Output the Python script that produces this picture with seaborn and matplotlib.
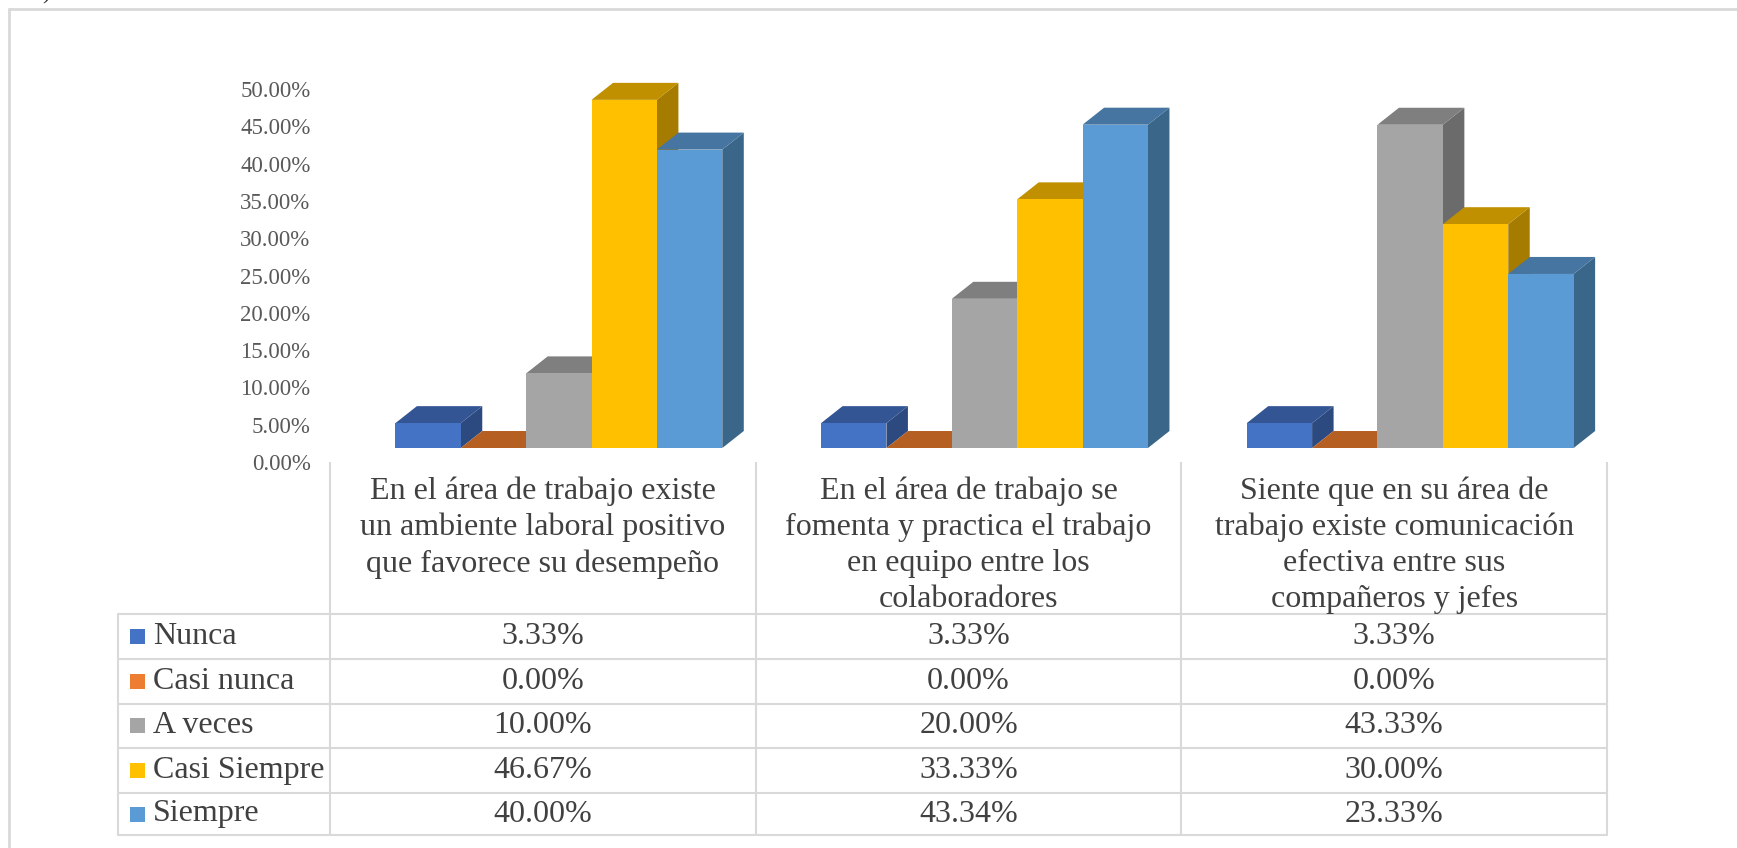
import numpy as np
import pandas as pd
import matplotlib
matplotlib.use("Agg")
import matplotlib.pyplot as plt
from matplotlib.patches import Polygon, Rectangle
from matplotlib.transforms import ScaledTranslation
import seaborn as sns

# ---- data -------------------------------------------------------------
preguntas = [
    "En el área de trabajo existe\nun ambiente laboral positivo\nque favorece su desempeño",
    "En el área de trabajo se\nfomenta y practica el trabajo\nen equipo entre los\ncolaboradores",
    "Siente que en su área de\ntrabajo existe comunicación\nefectiva entre sus\ncompañeros y jefes",
]
respuestas = ["Nunca", "Casi nunca", "A veces", "Casi Siempre", "Siempre"]
nunca = [3.33, 3.33, 3.33]
casi_nunca = [0.00, 0.00, 0.00]
a_veces = [10.00, 20.00, 43.33]
casi_siempre = [46.67, 33.33, 30.00]
siempre = [40.00, 43.34, 23.33]
y_ticks = [0, 5, 10, 15, 20, 25, 30, 35, 40, 45, 50]

series = [nunca, casi_nunca, a_veces, casi_siempre, siempre]
df = pd.DataFrame(
    [(p, r, v[i]) for r, v in zip(respuestas, series) for i, p in enumerate(preguntas)],
    columns=["pregunta", "respuesta", "valor"],
)

# ---- styling ----------------------------------------------------------
front = ["#4472C4", "#ED7D31", "#A5A5A5", "#FFC000", "#5B9BD5"]
top = ["#335593", "#B55F22", "#7F7F7F", "#C09000", "#4575A0"]
side = ["#2C4A80", "#A0521C", "#6B6B6B", "#A57C00", "#3A6689"]
grid_c = "#D9D9D9"
txt_c = "#404040"
axis_c = "#595959"

sns.set_theme(style="white")
plt.rcParams["font.family"] = ["Liberation Serif", "DejaVu Serif"]

W, H, DPI = 1737, 848, 100
fig = plt.figure(figsize=(W / DPI, H / DPI), dpi=DPI)
fig.patch.set_facecolor("white")

# chart area: columns of the data table define the category slots
col_left, col_right = 330, 1607
base_y, top_y = 448, 75
ax = fig.add_axes([col_left / W, (H - base_y) / H,
                   (col_right - col_left) / W, (base_y - top_y) / H])
ax.set_facecolor("none")

sns.barplot(data=df, x="pregunta", y="valor", hue="respuesta",
            order=preguntas, hue_order=respuestas, palette=front,
            saturation=1, width=0.768, gap=0, linewidth=0,
            legend=False, ax=ax)

slot_px = (col_right - col_left) / 3
shift = 16 / slot_px
ax.set_xlim(-0.5 - shift, 2.5 - shift)
ax.set_ylim(0, 50)
for s in ax.spines.values():
    s.set_visible(False)
ax.set_xticks([])
ax.set_xlabel("")
ax.set_ylabel("")
ax.set_yticks(y_ticks, [f"{t:.2f}%" for t in y_ticks])
ax.tick_params(axis="y", length=0, pad=14, labelsize=16.5, labelcolor=axis_c)
lab_off = ScaledTranslation(0, -14 / DPI, fig.dpi_scale_trans)
for lbl in ax.get_yticklabels():
    lbl.set_fontfamily(["Liberation Serif", "DejaVu Serif"])
    lbl.set_transform(lbl.get_transform() + lab_off)

# 3-D depth of the columns (pixels converted to data units)
px_x = slot_px
px_y = (base_y - top_y) / 50
dx = 21.5 / px_x
dy = 17.0 / px_y

bars = sorted(ax.patches, key=lambda p: p.get_x())
for k, p in enumerate(bars):
    x0, w, h = p.get_x(), p.get_width(), p.get_height()
    # series index from the bar's position inside its group
    cat = round(x0 + w / 2)
    j = int(round((x0 + w / 2 - cat) / w + 2))
    z = 2 + 3 * k
    ax.add_patch(Polygon([(x0 + w, 0), (x0 + w + dx, dy), (x0 + w + dx, h + dy), (x0 + w, h)],
                         closed=True, facecolor=side[j], edgecolor="none", zorder=z))
    ax.add_patch(Polygon([(x0, h), (x0 + w, h), (x0 + w + dx, h + dy), (x0 + dx, h + dy)],
                         closed=True, facecolor=top[j], edgecolor="none", zorder=z + 1))
    p.set_zorder(z + 2)

# ---- data table and frame (pixel coordinates) ----------------------------
tab = fig.add_axes([0, 0, 1, 1])
tab.set_xlim(0, W)
tab.set_ylim(H, 0)
tab.axis("off")

lw = 1.5
leg_left = 118
cols = [col_left + slot_px * i for i in range(4)]
rows = [614, 659, 703.5, 748, 793, 835]
head_top = 462

for cx in cols:
    tab.plot([cx, cx], [head_top, rows[-1]], color=grid_c, lw=lw, solid_capstyle="butt")
tab.plot([leg_left, leg_left], [rows[0], rows[-1]], color=grid_c, lw=lw)
for ry in rows:
    tab.plot([leg_left, cols[-1]], [ry, ry], color=grid_c, lw=lw)

# outer chart frame
tab.plot([9, 9], [9, H], color=grid_c, lw=2)
tab.plot([9, W], [9, 9], color=grid_c, lw=2)
tab.text(46, 4, ")", fontsize=16, color="#222222", ha="center", va="bottom")

fs = 23
for i, p in enumerate(preguntas):
    cx = (cols[i] + cols[i + 1]) / 2
    tab.text(cx, 476, p, ha="center", va="top", fontsize=fs, color=txt_c,
             linespacing=1.32)

for j, r in enumerate(respuestas):
    cy = (rows[j] + rows[j + 1]) / 2
    tab.add_patch(Rectangle((130, cy - 7.5), 15, 15, facecolor=front[j], edgecolor="none"))
    tab.text(153, cy, r, ha="left", va="center", fontsize=fs, color=txt_c)
    for i in range(3):
        cx = (cols[i] + cols[i + 1]) / 2
        tab.text(cx, cy, f"{series[j][i]:.2f}%", ha="center", va="center",
                 fontsize=fs, color=txt_c)

fig.savefig("out.png", dpi=DPI, facecolor="white")
